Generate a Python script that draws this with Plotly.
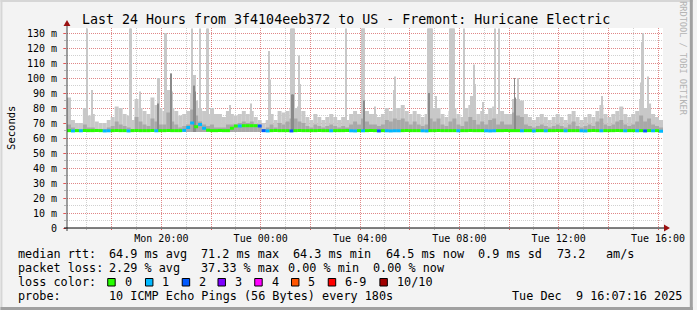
import plotly.graph_objects as go
import pandas as pd

# ---------------- data ----------------
START = pd.Timestamp("2025-12-08 16:12:00")
END = pd.Timestamp("2025-12-09 16:12:00")
BIN_MINUTES = 9.6       # width of one consolidated sample
SPIKE_MINUTES = 2.4     # width of one raw sample

# light smoke (max rtt per bin, ms)
smoke_hi = [
    87, 72, 70, 70, 80, 75, 76, 71, 70, 70,
    72, 74, 81, 80, 76, 75, 72, 86, 80, 78,
    76, 87, 82, 80, 78, 92, 80, 78, 75, 76,
    78, 90, 85, 80, 78, 76, 80, 76, 76, 74,
    78, 76, 75, 76, 78, 76, 78, 74, 72, 70,
    72, 76, 72, 78, 77, 78, 80, 80, 78, 78,
    74, 72, 76, 74, 72, 74, 76, 74, 72, 74,
    72, 76, 78, 76, 80, 78, 76, 76, 74, 76,
    80, 78, 80, 80, 82, 78, 76, 78, 76, 74,
    76, 80, 80, 80, 76, 74, 78, 80, 76, 74,
    80, 82, 80, 76, 78, 76, 80, 81, 76, 78,
    76, 76, 86, 86, 85, 76, 74, 72, 74, 76,
    74, 72, 74, 76, 74, 72, 76, 78, 74, 72,
    74, 76, 74, 78, 82, 76, 74, 76, 78, 81,
    76, 74, 76, 78, 86, 80, 83, 76, 74, 72,
]
# dark smoke (upper quartile per bin, ms)
smoke_mid = [
    69, 67, 66, 66, 69, 67, 67, 66, 66, 66,
    67, 68, 71, 69, 68, 67, 66, 74, 71, 69,
    68, 73, 71, 69, 69, 77, 71, 69, 67, 68,
    69, 79, 75, 71, 69, 68, 69, 67, 67, 67,
    69, 69, 69, 70, 71, 70, 71, 69, 69, 66,
    67, 69, 67, 70, 69, 71, 73, 73, 71, 70,
    68, 67, 69, 68, 67, 68, 69, 68, 67, 68,
    67, 69, 71, 69, 73, 71, 69, 69, 68, 69,
    72, 71, 73, 72, 73, 71, 69, 71, 69, 68,
    69, 73, 71, 73, 69, 68, 71, 73, 69, 68,
    71, 74, 72, 69, 71, 69, 72, 73, 69, 71,
    69, 69, 77, 75, 74, 69, 68, 67, 68, 69,
    68, 67, 68, 69, 68, 67, 69, 71, 68, 67,
    68, 69, 68, 71, 73, 69, 68, 69, 71, 72,
    69, 68, 69, 71, 75, 71, 73, 69, 68, 67,
]
# median rtt per bin (ms)
median_rtt = [
    64.9, 64.7, 64.9, 64.8, 65.0, 64.9, 64.9, 65.0, 64.9, 64.7,
    64.8, 64.9, 65.0, 64.9, 64.9, 64.7, 64.9, 65.0, 64.9, 64.9,
    64.9, 65.0, 64.8, 64.9, 64.9, 65.0, 64.9, 64.9, 64.9, 65.1,
    67.0, 70.0, 67.5, 69.0, 66.5, 65.2, 64.9, 64.9, 65.0, 64.9,
    64.9, 66.5, 68.0, 68.0, 68.2, 68.2, 68.2, 68.2, 68.0, 64.9,
    64.7, 64.9, 65.0, 64.9, 64.9, 64.9, 64.7, 64.9, 65.0, 64.9,
    64.9, 64.9, 64.9, 65.0, 64.9, 64.9, 64.8, 64.9, 64.9, 64.9,
    65.0, 64.8, 64.7, 64.9, 64.8, 64.9, 65.0, 64.9, 64.7, 64.9,
    64.8, 64.7, 64.8, 64.8, 64.9, 65.0, 64.9, 64.9, 64.9, 64.8,
    64.7, 64.9, 64.9, 65.0, 64.9, 64.9, 64.9, 64.9, 64.8, 64.9,
    64.9, 65.0, 64.9, 64.9, 64.9, 64.8, 64.7, 64.8, 64.9, 64.9,
    65.0, 64.9, 64.9, 64.9, 64.8, 64.9, 64.9, 64.7, 64.9, 64.9,
    64.8, 64.9, 64.9, 65.0, 64.9, 64.8, 64.9, 64.9, 64.9, 64.8,
    64.7, 64.9, 65.0, 64.9, 64.8, 64.9, 64.9, 64.9, 65.0, 64.9,
    64.8, 64.9, 64.9, 64.8, 64.9, 64.7, 64.9, 64.8, 64.9, 64.5,
]
# packet loss level per bin (index into loss colours)
loss_level = [
    0, 1, 0, 1, 0, 0, 0, 0, 0, 1,
    1, 0, 0, 0, 0, 1, 0, 0, 0, 0,
    0, 0, 1, 0, 0, 0, 0, 0, 0, 1,
    1, 1, 0, 1, 1, 0, 0, 0, 0, 0,
    0, 0, 0, 1, 0, 0, 0, 0, 2, 2,
    1, 0, 0, 0, 0, 0, 2, 0, 0, 0,
    0, 0, 0, 0, 0, 0, 1, 0, 0, 0,
    0, 1, 1, 0, 1, 0, 0, 0, 2, 0,
    1, 1, 1, 1, 0, 0, 0, 0, 0, 1,
    1, 0, 0, 0, 0, 0, 0, 0, 1, 0,
    0, 0, 0, 0, 0, 1, 1, 1, 0, 0,
    0, 0, 0, 0, 1, 0, 0, 1, 0, 0,
    1, 0, 0, 0, 0, 1, 0, 0, 0, 1,
    1, 0, 0, 0, 1, 0, 0, 0, 0, 0,
    1, 0, 0, 1, 0, 2, 0, 1, 0, 1,
]

# individual tall light-grey spikes (minutes after START, ms)
spike_minutes = [48.0, 60.0, 151.2, 153.6, 175.2, 218.4, 220.8, 235.2, 237.6,
                 249.6, 252.0, 300.0, 302.4, 304.8, 307.2, 319.2, 336.0, 338.4,
                 393.6, 444.0, 487.2, 489.6, 540.0, 542.4, 544.8, 547.2, 556.8,
                 559.2, 561.6, 672.0, 710.4, 712.8, 715.2, 717.6, 744.0, 789.6,
                 792.0, 871.2, 873.6, 876.0, 878.4, 880.8, 890.4, 924.0, 926.4,
                 928.8, 931.2, 933.6, 957.6, 974.4, 976.8, 979.2, 981.6, 984.0,
                 1003.2, 1032.0, 1041.6, 1089.6, 1092.0, 1291.2, 1384.8, 1387.2,
                 1389.6, 1401.6]
spike_values = [133, 92, 133, 133, 91, 100, 100, 130, 130,
                103, 91, 133, 102, 102, 102, 133, 133, 133,
                82, 83, 118, 99, 133, 133, 133, 133, 81,
                115, 96, 133, 133, 133, 133, 133, 81, 92,
                101, 133, 133, 133, 133, 133, 88, 133, 133,
                133, 133, 133, 133, 88, 88, 88, 109, 96,
                84, 133, 133, 100, 86, 88, 97, 124,
                130, 101]
# darker spikes
dark_spike_minutes = [218.4, 249.6, 304.8, 307.2, 542.4, 544.8, 715.2, 873.6, 1080.0, 1082.4]
dark_spike_values = [83, 103, 95, 91, 89, 89, 85, 90, 100, 87]

y_tick_values = [0, 10, 20, 30, 40, 50, 60, 70, 80, 90, 100, 110, 120, 130]
y_tick_labels = ["0", "10 m", "20 m", "30 m", "40 m", "50 m", "60 m", "70 m",
                 "80 m", "90 m", "100 m", "110 m", "120 m", "130 m"]
x_tick_times = ["2025-12-08 18:00", "2025-12-08 20:00", "2025-12-08 22:00",
                "2025-12-09 00:00", "2025-12-09 02:00", "2025-12-09 04:00",
                "2025-12-09 06:00", "2025-12-09 08:00", "2025-12-09 10:00",
                "2025-12-09 12:00", "2025-12-09 14:00", "2025-12-09 16:00"]
x_tick_labels = ["", "Mon 20:00", "", "Tue 00:00", "", "Tue 04:00", "",
                 "Tue 08:00", "", "Tue 12:00", "", "Tue 16:00"]

loss_colors = ["#26ff00", "#00b8ff", "#0059ff", "#7e00ff", "#ff00ff",
               "#ff5500", "#ff0000", "#a10000"]
loss_labels = ["0", "1", "2", "3", "4", "5", "6-9", "10/10"]

title_text = "Last 24 Hours from 3f4104eeb372 to US - Fremont: Huricane Electric"
rtt_stats = ["64.9 ms avg", "71.2 ms max", "64.3 ms min", "64.5 ms now", "0.9 ms sd", "73.2", "am/s"]
loss_stats = ["2.29 % avg", "37.33 % max", "0.00 % min", "0.00 % now"]
probe_text = "10 ICMP Echo Pings (56 Bytes) every 180s"
stamp_text = "Tue Dec\u00a0\u00a09 16:07:16 2025"

# ---------------- figure ----------------
W, H = 697, 310
L, R, T, B = 67, 667, 28, 228
SMOKE_BASE = 64.0
FONT = "DejaVu Sans Mono"


def px(x):
    return (x - L) / (R - L)


def py(y):
    return (B - y) / (B - T)


bin_x = [START + pd.Timedelta(minutes=BIN_MINUTES * i) for i in range(len(smoke_hi))]
bin_w = BIN_MINUTES * 60000
sp_x = [START + pd.Timedelta(minutes=m) for m in spike_minutes]
dsp_x = [START + pd.Timedelta(minutes=m) for m in dark_spike_minutes]
sp_w = SPIKE_MINUTES * 60000

fig = go.Figure()
fig.add_trace(go.Bar(x=bin_x, y=[v - SMOKE_BASE for v in smoke_hi], base=SMOKE_BASE,
                     width=bin_w, offset=0, marker=dict(color="#c8c8c8", line_width=0)))
fig.add_trace(go.Bar(x=sp_x, y=[v - SMOKE_BASE for v in spike_values], base=SMOKE_BASE,
                     width=sp_w, offset=0, marker=dict(color="#c8c8c8", line_width=0)))
fig.add_trace(go.Bar(x=bin_x, y=[v - SMOKE_BASE for v in smoke_mid], base=SMOKE_BASE,
                     width=bin_w, offset=0, marker=dict(color="#a8a8a8", line_width=0)))
fig.add_trace(go.Bar(x=dsp_x, y=[v - SMOKE_BASE for v in dark_spike_values], base=SMOKE_BASE,
                     width=sp_w, offset=0, marker=dict(color="#8a8a8a", line_width=0)))
fig.add_trace(go.Bar(x=bin_x, y=[2.0] * len(median_rtt), base=[m - 1.0 for m in median_rtt],
                     width=bin_w, offset=0,
                     marker=dict(color=[loss_colors[k] for k in loss_level], line_width=0)))

grid_major = "rgba(255,0,0,0.35)"
grid_minor = "rgba(120,120,120,0.35)"

fig.update_layout(
    width=W, height=H,
    margin=dict(l=L, r=W - R, t=T, b=H - B),
    paper_bgcolor="#f3f3f3", plot_bgcolor="#ffffff",
    showlegend=False, barmode="overlay",
    font=dict(family=FONT, color="#000000"),
    xaxis=dict(type="date", range=[START, END], tickmode="array",
               tickvals=x_tick_times, ticktext=x_tick_labels,
               tickfont=dict(size=10, family=FONT),
               showgrid=True, gridcolor=grid_major, griddash="1px,1px", gridwidth=1,
               ticks="outside", ticklen=1, tickcolor="rgba(255,0,0,0.5)",
               zeroline=False, showline=False,
               minor=dict(dtick=3600000, tick0="2025-12-08 17:00", showgrid=True,
                          gridcolor=grid_minor, griddash="1px,1px",
                          ticks="outside", ticklen=1, tickcolor="rgba(120,120,120,0.5)")),
    yaxis=dict(range=[0, 133.333], tickmode="array", tickvals=y_tick_values,
               ticktext=y_tick_labels, tickfont=dict(size=10, family=FONT),
               showgrid=True, gridcolor=grid_major, griddash="1px,1px", gridwidth=1,
               ticks="outside", ticklen=3, tickcolor="rgba(255,0,0,0.5)",
               ticklabelstandoff=4,
               zeroline=False, showline=False,
               minor=dict(dtick=5, tick0=0, showgrid=True, gridcolor=grid_minor,
                          griddash="1px,1px", ticks="outside", ticklen=2,
                          tickcolor="rgba(120,120,120,0.5)")),
)

shapes = []
# frame
shapes.append(dict(type="line", xref="paper", yref="paper", x0=px(0), x1=px(W), y0=py(1), y1=py(1),
                   line=dict(color="#d6d6d6", width=2)))
shapes.append(dict(type="line", xref="paper", yref="paper", x0=px(1), x1=px(1), y0=py(0), y1=py(H),
                   line=dict(color="#d6d6d6", width=2)))
shapes.append(dict(type="line", xref="paper", yref="paper", x0=px(0), x1=px(W), y0=py(308.5), y1=py(308.5),
                   line=dict(color="#a0a0a0", width=3)))
shapes.append(dict(type="line", xref="paper", yref="paper", x0=px(695.5), x1=px(695.5), y0=py(0), y1=py(H),
                   line=dict(color="#a0a0a0", width=3)))
# axes lines + arrows
shapes.append(dict(type="line", xref="paper", yref="paper", x0=px(67), x1=px(67), y0=py(231), y1=py(24),
                   line=dict(color="#404040", width=1)))
shapes.append(dict(type="line", xref="paper", yref="paper", x0=px(64), x1=px(670), y0=py(228), y1=py(228),
                   line=dict(color="#000000", width=1)))
shapes.append(dict(type="path", xref="paper", yref="paper",
                   path=f"M {px(63.5)} {py(26)} L {px(70.5)} {py(26)} L {px(67)} {py(20)} Z",
                   fillcolor="#9a1111", line=dict(width=0)))
shapes.append(dict(type="path", xref="paper", yref="paper",
                   path=f"M {px(668)} {py(224.5)} L {px(668)} {py(231.5)} L {px(674)} {py(228)} Z",
                   fillcolor="#9a1111", line=dict(width=0)))

ann = []


def text(s, x, y, size=11.8, anchor="left", color="#000000", angle=0):
    ann.append(dict(text=s, x=px(x), y=py(y), xref="paper", yref="paper", showarrow=False,
                    xanchor=anchor, yanchor="middle", textangle=angle,
                    font=dict(family=FONT, size=size, color=color)))


text(title_text, 347.5, 19, size=13.3, anchor="center")
text("Seconds", 10.5, 128, size=10.5, anchor="center", angle=-90)
text("RRDTOOL / TOBI OETIKER", 687, 59, size=8.6, anchor="center", color="#b4b4b4", angle=90)

rtt_x = [107, 200, 293, 386, 479, 558, 608]
text("median rtt:", 16, 254)
for s, x in zip(rtt_stats, rtt_x):
    text(s, x, 254)
loss_x = [107, 200, 287, 373]
text("packet loss:", 16, 268)
for s, x in zip(loss_stats, loss_x):
    text(s, x, 268)
text("loss color:", 16, 282)
box_x = [108, 146, 183, 219, 256, 293, 330, 382]
for c, lab, bx in zip(loss_colors, loss_labels, box_x):
    shapes.append(dict(type="rect", xref="paper", yref="paper", x0=px(bx), x1=px(bx + 7.5),
                       y0=py(278.5), y1=py(286), fillcolor=c, line=dict(color="#000000", width=1)))
    text(lab, bx + 15, 282)
text("probe:", 16, 296)
text(probe_text, 107, 296)
text(stamp_text, 513, 296)

fig.update_layout(shapes=shapes, annotations=ann)
fig.write_html("out.html")
